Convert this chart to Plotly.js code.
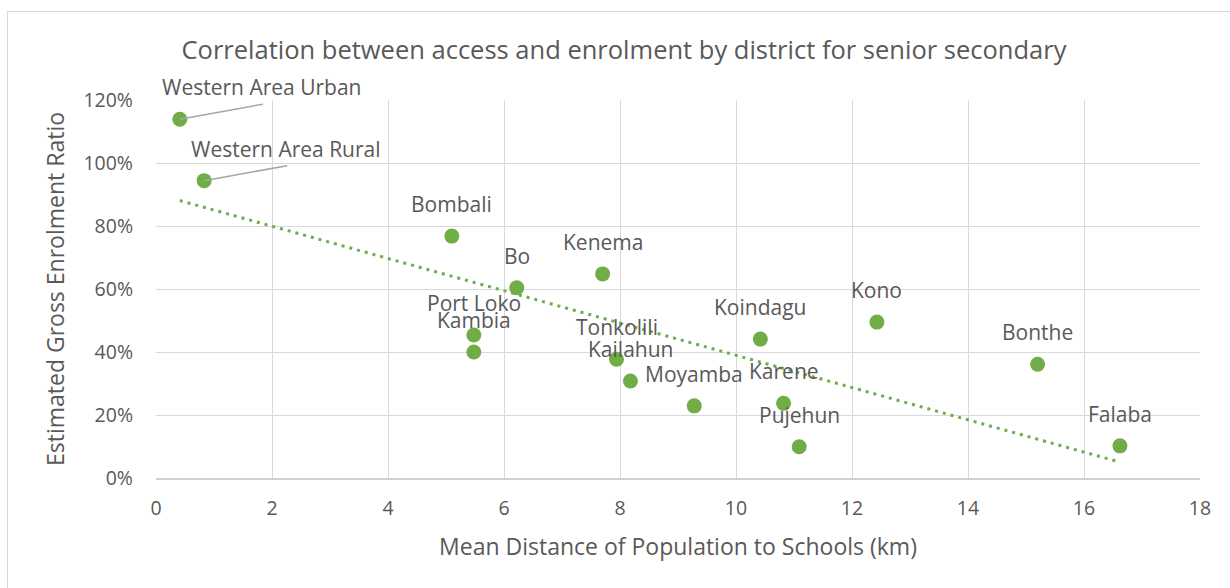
<!DOCTYPE html>
<html>
<head>
<meta charset="utf-8">
<script src="https://cdn.plot.ly/plotly-3.0.1.min.js"></script>
<style>
  html, body { margin: 0; padding: 0; background: #fff; overflow: hidden; }
  #wrap { position: relative; width: 1230px; height: 588px; }
  #chart { position: absolute; left: 0; top: 0; width: 1230px; height: 588px; }
  #frame { position: absolute; left: 7px; top: 11px; width: 1300px; height: 700px;
           border-left: 1.5px solid #D9D9D9; border-top: 1.5px solid #D9D9D9; pointer-events: none; }
</style>
</head>
<body>
<div id="wrap">
  <div id="chart"></div>
  <div id="frame"></div>
</div>
<script>
// Data
const districts = ["Western Area Urban", "Western Area Rural", "Bombali", "Bo", "Kenema",
  "Port Loko", "Kambia", "Tonkolili", "Kailahun", "Moyamba", "Koindagu", "Karene",
  "Pujehun", "Kono", "Bonthe", "Falaba"];
const meanDistanceKm = [0.41, 0.83, 5.10, 6.22, 7.70, 5.48, 5.48, 7.94, 8.18, 9.28,
  10.42, 10.82, 11.09, 12.43, 15.20, 16.62];
const grossEnrolmentPct = [113.9, 94.4, 76.8, 60.4, 64.8, 45.4, 40.0, 37.7, 30.8, 22.9,
  44.1, 23.7, 9.9, 49.5, 36.1, 10.2];
const xTickVals = [0, 2, 4, 6, 8, 10, 12, 14, 16, 18];
const yTickVals = [0, 20, 40, 60, 80, 100, 120];

const titleText = "Correlation between access and enrolment by district for senior secondary";
const xTitle = "Mean Distance of Population to Schools (km)";
const yTitle = "Estimated Gross Enrolment Ratio";

// Districts whose labels sit away from the point with a leader line
const leaderLabels = ["Western Area Urban", "Western Area Rural"];

// Linear (least squares) trendline computed from the data
const n = meanDistanceKm.length;
const mx = meanDistanceKm.reduce((a, b) => a + b, 0) / n;
const my = grossEnrolmentPct.reduce((a, b) => a + b, 0) / n;
let sxy = 0, sxx = 0;
for (let i = 0; i < n; i++) {
  sxy += (meanDistanceKm[i] - mx) * (grossEnrolmentPct[i] - my);
  sxx += (meanDistanceKm[i] - mx) ** 2;
}
const slope = sxy / sxx;
const intercept = my - slope * mx;
const xMin = Math.min(...meanDistanceKm), xMax = Math.max(...meanDistanceKm);
const trendX = [xMin, xMax];
const trendY = trendX.map(v => intercept + slope * v);

const FONT = "Open Sans, Noto Sans, sans-serif";
const TXT = "#595959";
const GREEN = "#70AD47";

const traces = [
  {
    type: "scatter", mode: "lines", x: trendX, y: trendY,
    line: { color: GREEN, width: 3, dash: "3px,5px" },
    hoverinfo: "skip", showlegend: false
  },
  {
    type: "scatter", mode: "markers", x: meanDistanceKm, y: grossEnrolmentPct,
    text: districts,
    marker: { color: GREEN, size: 15, line: { width: 0 } },
    showlegend: false
  }
];

const annotations = [];
const shapes = [];
districts.forEach((d, i) => {
  if (leaderLabels.includes(d)) {
    annotations.push({
      x: meanDistanceKm[i], y: grossEnrolmentPct[i], xref: "x", yref: "y",
      text: d, showarrow: false, xshift: 82, yshift: 32,
      font: { family: FONT, size: 21, color: TXT }
    });
    shapes.push({
      type: "line", xref: "x", yref: "y",
      xsizemode: "pixel", ysizemode: "pixel",
      xanchor: meanDistanceKm[i], yanchor: grossEnrolmentPct[i],
      x0: 0, y0: 0, x1: 83, y1: 15,
      line: { color: "#A6A6A6", width: 1.5 }
    });
  } else {
    annotations.push({
      x: meanDistanceKm[i], y: grossEnrolmentPct[i], xref: "x", yref: "y",
      text: d, showarrow: false, yshift: 32,
      font: { family: FONT, size: 21, color: TXT }
    });
  }
});

const layout = {
  width: 1230, height: 588,
  margin: { l: 156, r: 30, t: 100, b: 110, pad: 0 },
  paper_bgcolor: "#ffffff", plot_bgcolor: "#ffffff",
  font: { family: FONT, color: TXT, size: 16 },
  title: {
    text: titleText, font: { family: FONT, size: 25.5, color: TXT },
    x: 624 / 1230, xanchor: "center", xref: "container",
    y: 1 - 50 / 588, yanchor: "middle", yref: "container"
  },
  xaxis: {
    range: [0, 18], tickvals: xTickVals, ticktext: xTickVals.map(String),
    showgrid: true, gridcolor: "#D9D9D9", gridwidth: 1,
    zeroline: false, showline: true, linecolor: "#D0D0D0", linewidth: 1.5,
    ticks: "", ticklabelstandoff: 12,
    tickfont: { family: FONT, size: 19.5, color: TXT },
    title: { text: xTitle, font: { family: FONT, size: 23, color: TXT }, standoff: 19 },
    automargin: false, fixedrange: true
  },
  yaxis: {
    range: [0, 120], tickvals: yTickVals, ticktext: yTickVals.map(v => v + "%"),
    showgrid: true, gridcolor: "#D9D9D9", gridwidth: 1,
    zeroline: false, showline: false,
    ticks: "", ticklabelstandoff: 22,
    tickfont: { family: FONT, size: 19.5, color: TXT },
    title: { text: yTitle, font: { family: FONT, size: 23, color: TXT }, standoff: 12 },
    automargin: false, fixedrange: true
  },
  annotations: annotations,
  shapes: shapes,
  hovermode: "closest"
};

Plotly.newPlot("chart", traces, layout, { displayModeBar: false, staticPlot: true });
</script>
</body>
</html>
